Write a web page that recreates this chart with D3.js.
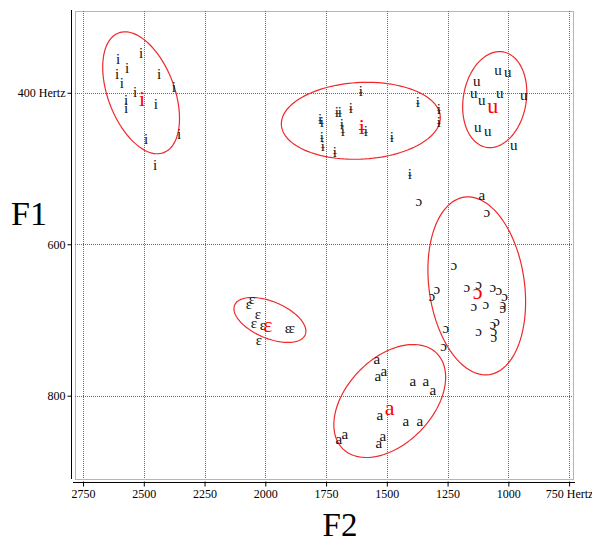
<!DOCTYPE html>
<html>
<head>
<meta charset="utf-8">
<script src="https://cdn.jsdelivr.net/npm/d3@7"></script>
<style>
  html, body { margin: 0; padding: 0; background: #fff; }
  svg { display: block; }
  text { font-family: "Liberation Serif", "Times New Roman", serif; }
</style>
</head>
<body>
<svg id="chart" width="592" height="544"></svg>
<script>
// ---------- data ----------
const f2Ticks = [2750, 2500, 2250, 2000, 1750, 1500, 1250, 1000, 750];
const f1Ticks = [400, 600, 800];
const f2TickLabels = ["2750", "2500", "2250", "2000", "1750", "1500", "1250", "1000", "750 Hertz"];
const f1TickLabels = ["400 Hertz", "600", "800"];

const vowels = ["i", "ɨ", "u", "ɔ", "ɛ", "a"];

// tokens: [F2, F1] in Hz
const tokensI = [[2511,347],[2606,356],[2569,367],[2610,375],[2437,375],[2590,387],[2536,399],
  [2376,393],[2573,409],[2573,420],[2450,415],[2491,461],[2355,454],[2454,495]];
const tokensBarI = [[1607,397],[1372,412],[1648,420],[1706,425],[1693,425],[1775,434],[1767,438],
  [1286,422],[1286,438],[1685,441],[1681,450],[1586,451],[1767,458],[1763,470],[1714,478],
  [1479,459],[1405,507]];
const tokensU = [[1043,370],[1002,372],[1130,385],[1142,400],[1109,409],[1035,400],[937,403],
  [1126,445],[1085,450],[978,469]];
const tokensOpenO = [[1368,543],[1089,557],[1224,627],[1294,659],[1315,669],[1171,656],[1122,652],
  [1064,656],[1039,661],[1015,669],[1023,679],[1023,684],[1142,682],[1093,679],[1048,702],
  [1064,705],[1060,714],[1060,722],[1122,715],[1257,710],[1266,734]];
const tokensEpsilon = [[2055,672],[2067,679],[2030,692],[2047,704],[2010,706],[1907,710],[1891,710],[2026,727]];
const tokensA = [[1541,752],[1537,774],[1512,768],[1393,781],[1340,781],[1311,793],[1529,825],
  [1422,834],[1364,834],[1673,851],[1697,857],[1516,853],[1533,862],[1109,535]];

// vowel means (F2, F1)
const meanF2 = [2507, 1603, 1064, 1126, 1989, 1488];
const meanF1 = [407, 445, 417, 663, 706, 816];

// ellipses: centre, F2 half-extent, F1 half-extent, correlation
const ellC2 = [2511, 1607, 1056, 1130, 1981, 1488];
const ellC1 = [400, 437, 409, 655, 700, 807];
const ellW2 = [158, 327, 132, 201, 148, 230];
const ellW1 = [80.5, 50.8, 63.4, 117.5, 29.7, 74.6];
const ellR  = [-0.42, 0.08, 0.15, -0.18, -0.5, 0.42];

const tokenSets = [tokensI, tokensBarI, tokensU, tokensOpenO, tokensEpsilon, tokensA];

// ---------- drawing ----------
const svg = d3.select("#chart");
const x = d3.scaleLinear().domain([2783, 734]).range([75, 573]);
const y = d3.scaleLinear().domain([292, 910]).range([11, 479]);

const gridColor = "#6a6a6a";

// frame (dotted)
svg.append("rect")
  .attr("x", x.range()[0] + 0.5).attr("y", y.range()[0] + 0.5)
  .attr("width", x.range()[1] - x.range()[0]).attr("height", y.range()[1] - y.range()[0])
  .attr("fill", "none").attr("stroke", gridColor).attr("stroke-width", 1)
  .attr("stroke-dasharray", "1,1");

// grid
svg.append("g").selectAll("line").data(f2Ticks).join("line")
  .attr("x1", d => Math.round(x(d)) + 0.5).attr("x2", d => Math.round(x(d)) + 0.5)
  .attr("y1", y.range()[0]).attr("y2", y.range()[1])
  .attr("stroke", gridColor).attr("stroke-dasharray", "1,1");
svg.append("g").selectAll("line").data(f1Ticks).join("line")
  .attr("y1", d => Math.round(y(d)) + 0.5).attr("y2", d => Math.round(y(d)) + 0.5)
  .attr("x1", x.range()[0]).attr("x2", x.range()[1])
  .attr("stroke", gridColor).attr("stroke-dasharray", "1,1");

// axes
const xAxis = d3.axisBottom(x).tickValues(f2Ticks).tickSize(4).tickPadding(3)
  .tickFormat((d, i) => f2TickLabels[i]);
const gx = svg.append("g").attr("transform", "translate(0,482.5)").call(xAxis);
gx.select(".domain").attr("d", `M73,0H575`).attr("stroke", "#000");
gx.selectAll(".tick line").attr("y1", -1);
gx.selectAll("text").attr("font-family", "Liberation Serif").attr("font-size", 12).attr("fill", "#000");

const yAxis = d3.axisLeft(y).tickValues(f1Ticks).tickSize(4).tickPadding(2)
  .tickFormat((d, i) => f1TickLabels[i]);
const gy = svg.append("g").attr("transform", "translate(71.5,0)").call(yAxis);
gy.select(".domain").attr("d", `M0,10V479`).attr("stroke", "#000");
gy.selectAll("text").attr("font-family", "Liberation Serif").attr("font-size", 12).attr("fill", "#000");

// axis titles
svg.append("text").attr("x", 11).attr("y", 225).attr("font-size", 34).text("F1");
svg.append("text").attr("x", 340).attr("y", 536).attr("text-anchor", "middle").attr("font-size", 33).text("F2");

// ellipses
const line = d3.line().x(d => x(d[0])).y(d => y(d[1]));
vowels.forEach((v, k) => {
  const pts = d3.range(0, 121).map(j => {
    const t = j / 120 * 2 * Math.PI;
    const r = ellR[k];
    return [ellC2[k] + ellW2[k] * Math.cos(t),
            ellC1[k] + ellW1[k] * (r * Math.cos(t) + Math.sqrt(1 - r * r) * Math.sin(t))];
  });
  svg.append("path").attr("d", line(pts) + "Z")
    .attr("fill", "none").attr("stroke", "#f0282a").attr("stroke-width", 1.2);
});

// tokens
vowels.forEach((v, k) => {
  svg.append("g").selectAll("text").data(tokenSets[k]).join("text")
    .attr("x", d => x(d[0])).attr("y", d => y(d[1]))
    .attr("text-anchor", "middle").attr("dominant-baseline", "central")
    .attr("font-size", 15).attr("fill", "#111").text(v);
});

// means
svg.append("g").selectAll("text").data(vowels).join("text")
  .attr("x", (d, k) => x(meanF2[k])).attr("y", (d, k) => y(meanF1[k]))
  .attr("text-anchor", "middle").attr("dominant-baseline", "central")
  .attr("font-size", 22).attr("fill", "#f00").text(d => d);
</script>
</body>
</html>
